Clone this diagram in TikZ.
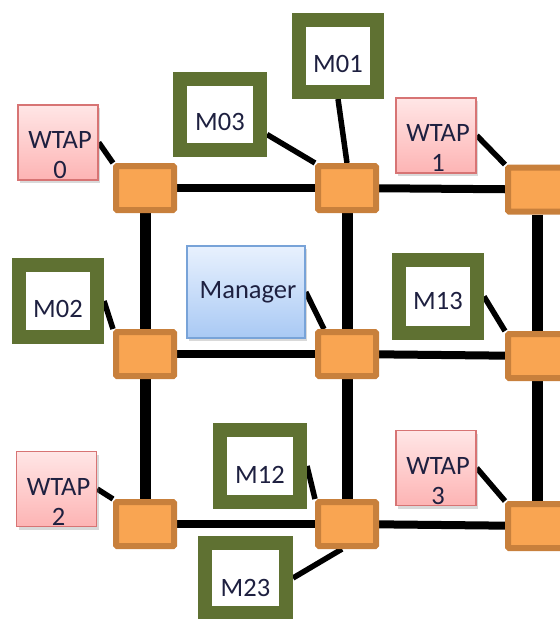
\documentclass[tikz,border=0pt]{standalone}
\usepackage{fontspec}
\setmainfont{Carlito}
\usetikzlibrary{backgrounds,shadows}
\definecolor{swfill}{HTML}{F9A552}
\definecolor{swdraw}{HTML}{C8803C}
\definecolor{modgreen}{HTML}{5F7132}
\definecolor{pinktop}{HTML}{FFE6E6}
\definecolor{pinkbot}{HTML}{FDB4B4}
\definecolor{pinkdraw}{HTML}{D77474}
\definecolor{bluetop}{HTML}{E8F1FE}
\definecolor{bluebot}{HTML}{A9C9F4}
\definecolor{bluedraw}{HTML}{78A3D8}
\definecolor{txt}{HTML}{1E2040}
\newcommand{\lowtxt}[2]{\raisebox{-#1}[0pt][0pt]{#2}}
\newcommand{\twoline}[2]{\raisebox{-6pt}[0pt][0pt]{\hspace{4pt}\begin{tabular}[t]{@{}c@{}}#1\\#2\end{tabular}}}
\begin{document}
\begin{tikzpicture}[x=1pt,y=-1pt,
  every node/.style={font=\fontsize{26.5}{30}\selectfont, text=txt, inner sep=0pt},
  switchbox/.style={draw=swdraw, fill=swfill, line width=6pt, minimum width=58pt, minimum height=44pt, rounded corners=1pt},
  modbox/.style={draw=modgreen, fill=white, line width=14pt, minimum width=79pt, minimum height=72pt},
  wtapbox/.style={draw=pinkdraw, line width=1.5pt, top color=pinktop, bottom color=pinkbot, minimum width=80pt, minimum height=75pt, drop shadow={shadow xshift=2pt, shadow yshift=-3pt, opacity=0.3}},
  mgrbox/.style={draw=bluedraw, line width=1.5pt, top color=bluetop, bottom color=bluebot, minimum width=118pt, minimum height=92pt, drop shadow={shadow xshift=2pt, shadow yshift=-3pt, opacity=0.3}},
  gridh/.style={line width=8pt, black},
  gridv/.style={line width=11pt, black},
  link/.style={line width=5.5pt, black}
]
\useasboundingbox (0,0) rectangle (560,619);
\begin{scope}
\clip (0,0) rectangle (560,619);
% switches
\node[switchbox] (s00) at (145,188) {};
\node[switchbox] (s01) at (347,188) {};
\node[switchbox] (s02) at (537,189.5) {};
\node[switchbox] (s10) at (145,354) {};
\node[switchbox] (s11) at (347,354) {};
\node[switchbox] (s12) at (537,356) {};
\node[switchbox] (s20) at (145,524) {};
\node[switchbox] (s21) at (347,524) {};
\node[switchbox] (s22) at (537,526) {};
% WTAP boxes
\node[wtapbox] (w0) at (58,142.5) {\twoline{WTAP}{0}};
\node[wtapbox] (w1) at (436,135.5) {\twoline{WTAP}{1}};
\node[wtapbox] (w2) at (56.5,489) {\twoline{WTAP}{2}};
\node[wtapbox] (w3) at (436,468) {\twoline{WTAP}{3}};
% modules
\node[modbox, minimum width=80pt, minimum height=71pt] (m03) at (220,114.5) {\lowtxt{16pt}{M03}};
\node[modbox, minimum width=78pt] (m01) at (338,56) {\lowtxt{16pt}{M01}};
\node[modbox, minimum width=78pt] (m02) at (58,301) {\lowtxt{16pt}{M02}};
\node[modbox, minimum width=78pt, minimum height=73pt] (m13) at (438,296.5) {\lowtxt{13pt}{M13}};
\node[modbox, minimum width=80pt] (m12) at (260,466) {\lowtxt{17pt}{M12}};
\node[modbox, minimum width=81pt, minimum height=70pt] (m23) at (245.5,578) {\lowtxt{18pt}{M23}};
% manager
\node[mgrbox] (mgr) at (246,292) {\lowtxt{6pt}{\hspace{4pt}Manager}};
\end{scope}
\begin{scope}[on background layer]
% grid
\draw[gridh] (s00) -- (s01);
\draw[gridh] (s01) -- (s02);
\draw[gridh] (s10) -- (s11);
\draw[gridh] (s11) -- (s12);
\draw[gridh] (s20) -- (s21);
\draw[gridh] (s21) -- (s22);
\draw[gridv] (s00) -- (s10);
\draw[gridv] (s10) -- (s20);
\draw[gridv] (s01) -- (s11);
\draw[gridv] (s11) -- (s21);
\draw[gridv] (s02) -- (s12);
\draw[gridv] (s12) -- (s22);
% attachments
\draw[link] (w0.east) -- (s00.north west);
\draw[link] ([yshift=-20pt]m03.east) -- (s01.north west);
\draw[link] (m01.south) -- (s01.north);
\draw[link] (w1.east) -- (s02.north west);
\draw[link] (m02.east) -- (s10.north west);
\draw[link] (mgr.east) -- ([xshift=9pt]s11.north west);
\draw[link] (m13.east) -- (s12.north west);
\draw[link] (w2.east) -- (s20.north west);
\draw[link] (m12.east) -- (s21.north west);
\draw[link] (w3.east) -- (s22.north west);
\draw[link] (m23.east) -- ([xshift=-5pt]s21.south);
\end{scope}
\end{tikzpicture}
\end{document}
